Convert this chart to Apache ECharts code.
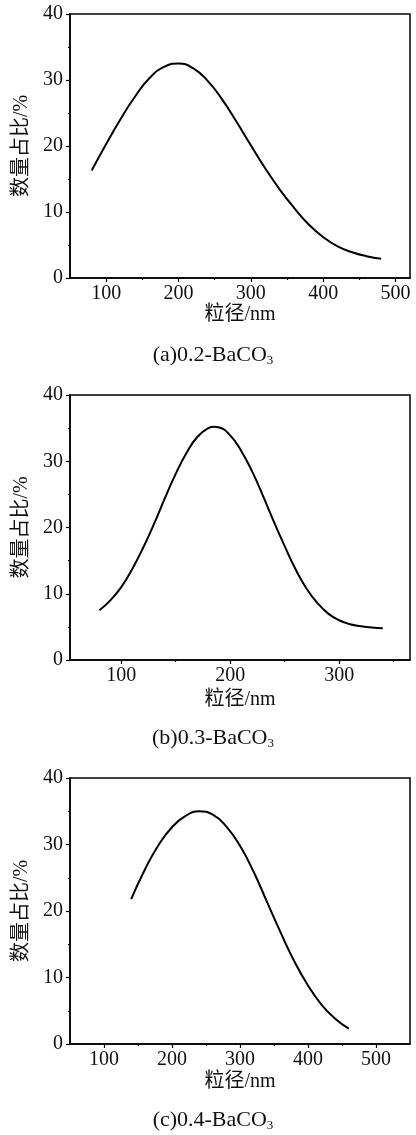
<!DOCTYPE html>
<html>
<head>
<meta charset="utf-8">
<script src="https://cdn.jsdelivr.net/npm/echarts@6/dist/echarts.min.js"></script>
<style>
html,body{margin:0;padding:0;background:#fff;}
#c{width:416px;height:1135px;}
</style>
</head>
<body>
<div id="c"></div>
<script>
// (a) 0.2-BaCO3
const xA = [80,100,120,140,160,180,200,220,240,260,280,300,320,340,360,380,400,420,440,460,480];
const yA = [16.3,20.3,24.1,27.5,30.3,32.0,32.5,31.8,29.9,27.1,23.7,20.1,16.6,13.4,10.6,8.1,6.2,4.8,3.9,3.3,2.9];
// (b) 0.3-BaCO3
const xB = [80,90,100,110,120,130,140,150,160,170,180,185,190,200,210,220,230,240,250,260,270,280,290,300,310,320,330,340];
const yB = [7.5,9.0,11.0,13.7,16.9,20.5,24.4,28.1,31.3,33.7,35.0,35.2,35.1,33.9,31.6,28.5,24.8,20.9,17.2,13.7,10.8,8.6,7.0,6.0,5.4,5.1,4.9,4.8];
// (c) 0.4-BaCO3
const xC = [140,160,180,200,220,240,260,280,300,320,340,360,380,400,420,440,460];
const yC = [21.8,26.2,29.9,32.6,34.3,35.0,34.5,32.7,29.8,25.9,21.3,16.7,12.4,8.8,5.9,3.8,2.3];

const yTicks = [0,10,20,30,40];
const xTicksA = [100,200,300,400,500];
const xMinorA = [150,250,350,450];
const xTicksB = [100,200,300];
const xMinorB = [150,250,350];
const xTicksC = [100,200,300,400,500];
const xMinorC = [150,250,350,450];

const captions = ['(a)0.2-BaCO{s|3}','(b)0.3-BaCO{s|3}','(c)0.4-BaCO{s|3}'];
const xName = '粒径/nm';
const yName = '数量占比/%';

const FONT = "'Liberation Serif','Noto Sans CJK SC',serif";
const INK = '#111';

const panels = [
  {top:14, height:264, xmin:50, xmax:520, ticks:xTicksA, minor:xMinorA, xs:xA, ys:yA, nameGap:27, capTop:344},
  {top:395, height:265, xmin:53, xmax:365, ticks:xTicksB, minor:xMinorB, xs:xB, ys:yB, nameGap:30, capTop:727},
  {top:778, height:266, xmin:50, xmax:550, ticks:xTicksC, minor:xMinorC, xs:xC, ys:yC, nameGap:28, capTop:1109}
];

const grid = [], xAxis = [], yAxis = [], series = [], title = [];
panels.forEach((p, i) => {
  grid.push({left:70, width:340, top:p.top, height:p.height, show:true, borderColor:'#000', borderWidth:1.5, backgroundColor:'transparent'});
  xAxis.push({
    type:'value', gridIndex:i, position:'bottom', min:p.xmin, max:p.xmax,
    name:xName, nameLocation:'middle', nameGap:p.nameGap,
    nameTextStyle:{fontFamily:FONT, fontSize:20, color:INK},
    axisLine:{show:true, onZero:false, lineStyle:{color:'#000', width:1.5}},
    axisTick:{show:true, inside:false, length:4, customValues:p.ticks, lineStyle:{color:'#000', width:1.2}},
    axisLabel:{show:true, customValues:p.ticks, margin:6, fontFamily:FONT, fontSize:20, color:INK},
    splitLine:{show:false}
  });
  xAxis.push({
    type:'value', gridIndex:i, position:'bottom', min:p.xmin, max:p.xmax,
    axisLine:{show:false},
    axisTick:{show:true, inside:false, length:2, customValues:p.minor, lineStyle:{color:'#000', width:1.2}},
    axisLabel:{show:false},
    splitLine:{show:false}
  });
  yAxis.push({
    type:'value', gridIndex:i, min:0, max:40, interval:10,
    name:yName, nameLocation:'middle', nameGap:34,
    nameTextStyle:{fontFamily:FONT, fontSize:20, color:INK},
    axisLine:{show:true, lineStyle:{color:'#000', width:1.5}},
    axisTick:{show:true, inside:false, length:4, lineStyle:{color:'#000', width:1.2}},
    minorTick:{show:true, splitNumber:2, length:2, lineStyle:{color:'#000', width:1.2}},
    axisLabel:{margin:7, fontFamily:FONT, fontSize:20, color:INK},
    splitLine:{show:false}, minorSplitLine:{show:false}
  });
  series.push({
    type:'line', xAxisIndex:i*2, yAxisIndex:i, smooth:0.5, symbol:'none',
    lineStyle:{color:'#000', width:2},
    data:p.xs.map((x, k) => [x, p.ys[k]])
  });
  title.push({
    text:captions[i], left:213, top:p.capTop, textAlign:'center', padding:0,
    textStyle:{fontFamily:FONT, fontSize:22, fontWeight:'normal', color:INK,
      rich:{s:{fontFamily:FONT, fontSize:13, color:INK, verticalAlign:'bottom', padding:[10,0,0,0]}}}
  });
});

const chart = echarts.init(document.getElementById('c'), null, {renderer:'canvas'});
chart.setOption({animation:false, backgroundColor:'#fff', title, grid, xAxis, yAxis, series});
</script>
</body>
</html>
